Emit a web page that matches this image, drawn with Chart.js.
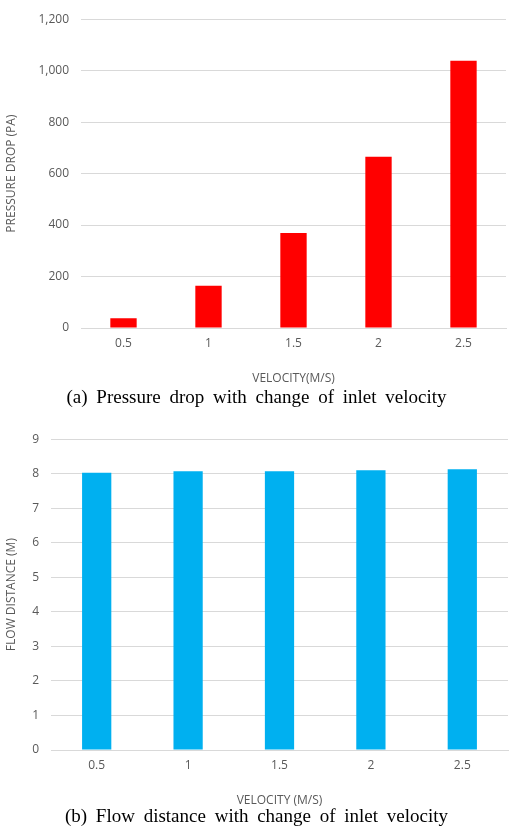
<!DOCTYPE html>
<html><head><meta charset="utf-8">
<script src="https://cdn.jsdelivr.net/npm/chart.js@4/dist/chart.umd.min.js"></script>
<style>
body{margin:0;background:#fff;width:513px;height:832px;position:relative;overflow:hidden}
canvas{position:absolute;left:0}
.cap{position:absolute;left:0;width:513px;text-align:center;font-family:"Liberation Serif",serif;font-size:19px;color:#000;word-spacing:4px}
</style></head><body>
<canvas id="c1" width="513" height="390" style="top:0"></canvas>
<canvas id="c2" width="513" height="392" style="top:420px"></canvas>
<div class="cap" style="top:386px">(a) Pressure drop with change of inlet velocity</div>
<div class="cap" style="top:805px">(b) Flow distance with change of inlet velocity</div>
<script>
const categories = ["0.5","1","1.5","2","2.5"];
const pressureDrop = [38, 164, 369, 665, 1039];
const flowDistance = [8.03, 8.07, 8.07, 8.10, 8.13];

const tickFont = {family:"Open Sans", size:12};
const grey = "#595959";
function make(id, data, color, ymax, step, ytitle, xtitle, yw, pad, barPct){
  new Chart(document.getElementById(id), {
    type:'bar',
    data:{labels:categories, datasets:[{data:data, backgroundColor:color, barPercentage:barPct, categoryPercentage:1}]},
    options:{
      responsive:false, animation:false, devicePixelRatio:1,
      layout:{padding:pad},
      plugins:{legend:{display:false}, tooltip:{enabled:false}},
      scales:{
        x:{grid:{display:false, drawTicks:false}, border:{color:"#d9d9d9"},
           ticks:{color:grey, font:tickFont, padding:8},
           title:{display:true, text:xtitle, color:grey, font:{family:"Open Sans", size:12}, padding:{top:4}},
           afterFit:s=>{s.height=62;}},
        y:{min:0, max:ymax, ticks:{stepSize:step, color:grey, font:tickFont, padding:12},
           grid:{color:"#d9d9d9", drawTicks:false}, border:{display:false},
           title:{display:true, text:ytitle, color:grey, font:{family:"Open Sans", size:12}},
           afterFit:s=>{s.width=yw;}}
      }
    }
  });
}
make("c1", pressureDrop, "#ff0000", 1200, 200, "PRESSURE DROP (PA)", "VELOCITY(M/S)", 81, {top:15,right:7,bottom:0,left:0}, 0.31);
make("c2", flowDistance, "#00b0f0", 9, 1, "FLOW DISTANCE (M)", "VELOCITY (M/S)", 51, {top:12,right:5,bottom:0,left:0}, 0.32);
</script>
</body></html>
